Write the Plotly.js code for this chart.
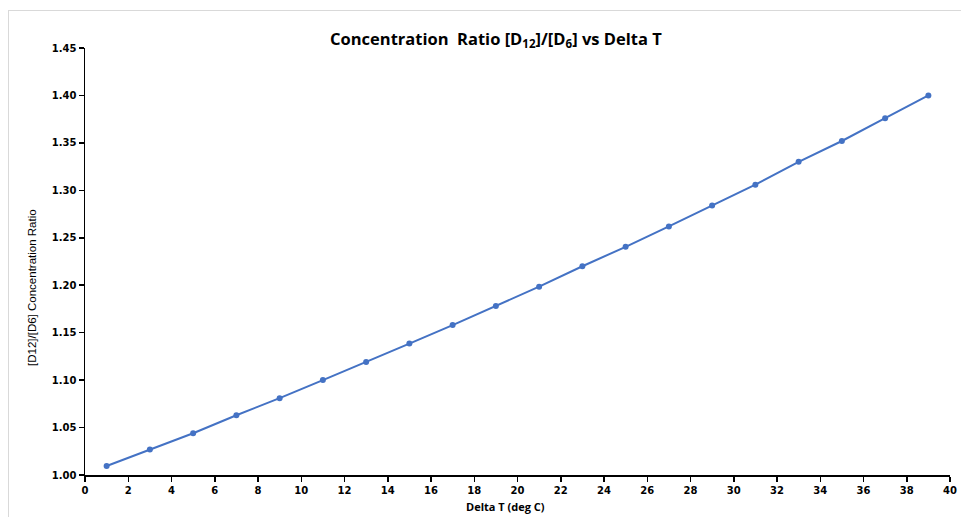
<!DOCTYPE html>
<html>
<head>
<meta charset="utf-8">
<script src="https://cdn.plot.ly/plotly-3.0.1.min.js"></script>
<style>
  html, body { margin: 0; padding: 0; background: #fff; }
  #wrap { position: relative; width: 961px; height: 517px; overflow: hidden; }
  #chart { width: 961px; height: 517px; }
  #frame { position: absolute; left: 8px; top: 10px; width: 960px; height: 540px;
           border: 1px solid #d9d9d9; pointer-events: none; box-sizing: border-box; }
</style>
</head>
<body>
<div id="wrap">
  <div id="frame"></div>
  <div id="chart"></div>
</div>
<script>
const deltaT = [1, 3, 5, 7, 9, 11, 13, 15, 17, 19, 21, 23, 25, 27, 29, 31, 33, 35, 37, 39];
const ratio = [1.0095, 1.027, 1.044, 1.063, 1.081, 1.100, 1.119, 1.1385, 1.158, 1.178,
               1.1985, 1.220, 1.2405, 1.262, 1.284, 1.306, 1.330, 1.352, 1.376, 1.400];
const titleText = 'Concentration  Ratio [D<sub>12</sub>]/[D<sub>6</sub>] vs Delta T';
const xTitle = 'Delta T (deg C)';
const yTitle = '[D12]/[D6] Concentration Ratio';

const trace = {
  x: deltaT,
  y: ratio,
  type: 'scatter',
  mode: 'lines+markers',
  line: { color: '#4472C4', width: 2 },
  marker: { color: '#4472C4', size: 6 },
  showlegend: false
};

const tickFont = { family: 'DejaVu Sans, Verdana, sans-serif', size: 10, color: '#000' };

const layout = {
  width: 961,
  height: 517,
  margin: { l: 85, r: 11, t: 48, b: 42 },
  paper_bgcolor: 'rgba(0,0,0,0)',
  plot_bgcolor: 'rgba(0,0,0,0)',
  title: {
    text: titleText,
    font: { family: 'Open Sans, DejaVu Sans, sans-serif', size: 16.5, color: '#000', weight: 'bold' },
    x: 0.475, xref: 'paper', xanchor: 'center',
    y: 0.925, yref: 'container', yanchor: 'middle'
  },
  xaxis: {
    range: [0, 40],
    dtick: 2,
    tick0: 0,
    showgrid: false,
    zeroline: false,
    showline: true,
    linecolor: '#000',
    linewidth: 1.5,
    ticks: 'outside',
    ticklen: 5,
    tickwidth: 1.5,
    tickcolor: '#000',
    tickfont: Object.assign({ weight: 'bold' }, tickFont)
  },
  yaxis: {
    range: [1.0, 1.45],
    dtick: 0.05,
    tick0: 1.0,
    tickformat: '.2f',
    showgrid: false,
    zeroline: false,
    showline: true,
    linecolor: '#000',
    linewidth: 1.5,
    ticks: 'outside',
    ticklen: 5,
    tickwidth: 1.5,
    tickcolor: '#000',
    tickfont: Object.assign({ weight: 'bold' }, tickFont)
  },
  annotations: [
    {
      text: xTitle, showarrow: false,
      xref: 'paper', yref: 'paper', x: 0.4867, y: 0,
      xanchor: 'center', yanchor: 'middle', yshift: -31,
      font: { family: 'Open Sans, DejaVu Sans, sans-serif', size: 11, color: '#000', weight: 'bold' }
    },
    {
      text: yTitle, showarrow: false, textangle: -90,
      xref: 'paper', yref: 'paper', x: 0, y: 0.438,
      xanchor: 'center', yanchor: 'middle', xshift: -53,
      font: { family: 'Liberation Sans Narrow, Liberation Sans, sans-serif', size: 11.5, color: '#000' }
    }
  ]
};

Plotly.newPlot('chart', [trace], layout, { displayModeBar: false, staticPlot: true });
</script>
</body>
</html>
